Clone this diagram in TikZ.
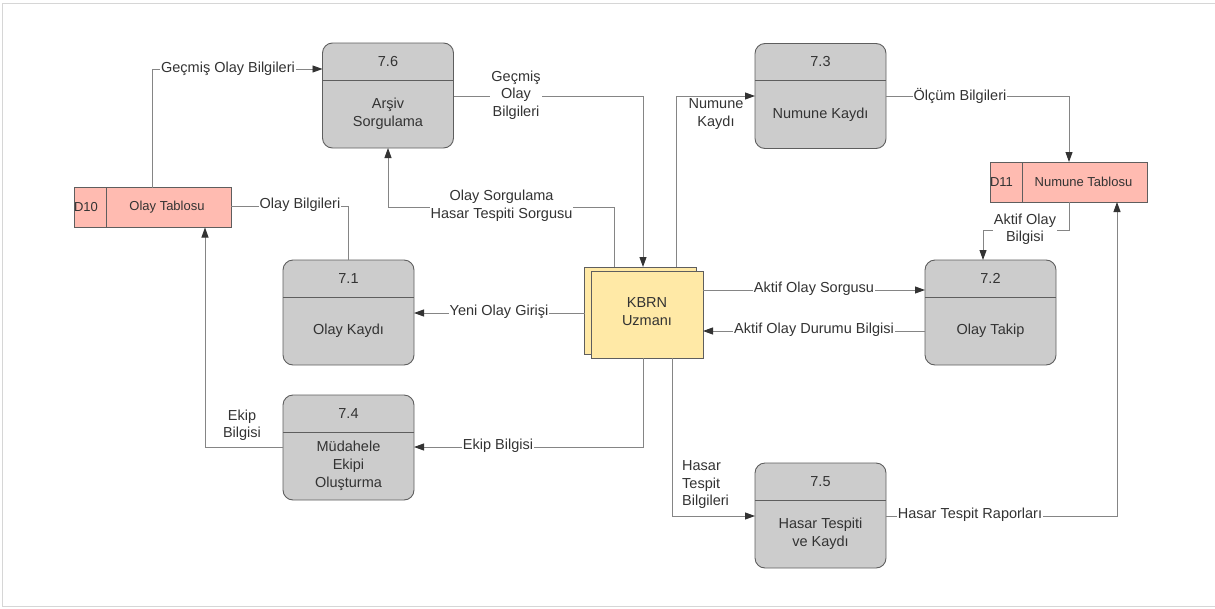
\documentclass[tikz,border=0pt]{standalone}
\usepackage{fontspec}
\setmainfont{Liberation Sans}
\usetikzlibrary{arrows.meta,calc}
\definecolor{txt}{HTML}{333333}
\definecolor{boxline}{HTML}{5E5E5E}
\definecolor{procfill}{HTML}{CCCCCC}
\definecolor{storefill}{HTML}{FFBBB1}
\definecolor{kfill}{HTML}{FFE9A6}
\definecolor{linecol}{HTML}{858585}
\definecolor{arrowcol}{HTML}{333333}
\definecolor{framecol}{HTML}{D6D6D6}
\tikzset{
  procbox/.style={draw=boxline, fill=procfill, rounded corners=10pt, minimum width=131pt, minimum height=105pt, inner sep=0pt, outer sep=0pt, line width=0.9pt},
  storebox/.style={draw=boxline, fill=storefill, minimum width=157pt, minimum height=40pt, inner sep=0pt, outer sep=0pt, line width=0.9pt},
  kbox/.style={draw=boxline, fill=kfill, minimum width=112pt, minimum height=87pt, inner sep=0pt, outer sep=0pt, line width=0.8pt},
  ptext/.style={text=txt, font=\fontsize{14.5}{18}\selectfont, align=center, inner sep=0pt},
  stext/.style={text=txt, font=\fontsize{13}{16}\selectfont, inner sep=0pt},
  lbl/.style={fill=white, inner sep=1pt, text=txt, font=\fontsize{14.5}{17.5}\selectfont, align=center},
  flow/.style={draw=linecol, line width=0.9pt, -{Triangle[length=10pt,width=7pt,color=arrowcol]}},
  plainflow/.style={draw=linecol, line width=0.9pt},
}
\newcommand\procnode[5]{%
  \node[procbox] (#1) at (#2,#3) {};
  \draw[boxline, line width=0.9pt] ($(#1.north west)+(0,37)$) -- ($(#1.north east)+(0,37)$);
  \node[ptext] (#1t) at ($(#1.north)+(0,18.5)$) {#4};
  \node[ptext] (#1b) at ($(#1.south)+(0,-34)$) {#5};
}
\newcommand\storenode[6]{%
  \node[storebox] (#1) at (#2,#3) {};
  \draw[boxline, line width=0.9pt] ($(#1.north west)+(32,0)$) -- ($(#1.south west)+(32,0)$);
  \node[stext] (#1i) at ($(#1.west)+(#6,0)$) {#4};
  \node[stext] (#1n) at ($(#1.west)+(93,0)$) {#5};
}
\begin{document}
\begin{tikzpicture}[x=1pt,y=-1pt]
\useasboundingbox (0,0) rectangle (1215,608);
\draw[framecol, line width=0.8pt] (1215,3) -- (2,3) -- (2,606) -- (1215,606);

% processes
\procnode{p76}{388}{95.5}{7.6}{Arşiv\\Sorgulama}
\procnode{p73}{820.5}{96}{7.3}{Numune Kaydı}
\procnode{p71}{348.5}{312.5}{7.1}{Olay Kaydı}
\procnode{p72}{990.5}{312.5}{7.2}{Olay Takip}
\procnode{p74}{348.5}{447.5}{7.4}{Müdahele\\ Ekipi\\Oluşturma}
\procnode{p75}{820.5}{515.5}{7.5}{Hasar Tespiti\\ ve Kaydı}

% stores
\storenode{d10}{152.5}{207.5}{D10}{Olay Tablosu}{12}
\storenode{d11}{1069}{182}{D11}{Numune Tablosu}{11}

% external entity
\node[kbox] (kback) at (640.5,310.5) {};
\node[kbox] (kfront) at (647,314.5) {};
\node[ptext] (ktext) at (647,312) {KBRN\\Uzmanı};

% connectors
\draw[flow] (d10.north) |- (p76.west |- 0,69);
\draw[flow] (p76.east |- 0,96) -| (643,0 |- kback.north);
\draw[flow] (614,0 |- kback.north) -- (614,207) -| (p76.south);
\draw[flow] (676,0 |- kback.north) |- (p73.west |- 0,96);
\draw[flow] (p73.east |- 0,96) -| (1069,0 |- d11.north);
\draw[flow] (1069,0 |- d11.south) -- (1069,230) -| (983,0 |- p72.north);
\draw[flow] (kfront.east |- 0,290) -- (p72.west |- 0,290);
\draw[flow] (p72.west |- 0,331) -- (kfront.east |- 0,331);
\draw[flow] (kback.west |- 0,313) -- (p71.east |- 0,313);
\draw[plainflow] (d10.east |- 0,206) -| (p71.north);
\draw[flow] (643,0 |- kfront.south) |- (p74.east |- 0,447);
\draw[flow] (p74.west |- 0,447) -| (205,0 |- d10.south);
\draw[flow] (672,0 |- kfront.south) |- (p75.west |- 0,516);
\draw[flow] (p75.east |- 0,516) -| (1117,0 |- d11.south);

% labels
\node[lbl] (l1) at (228,69) {Geçmiş Olay Bilgileri};
\node[lbl] (l2) at (516,95) {Geçmiş\\Olay\\Bilgileri};
\node[lbl] (l3) at (501.5,205.5) {Olay Sorgulama\\Hasar Tespiti Sorgusu};
\node[lbl] (l4) at (716,114) {Numune\\Kaydı};
\node[lbl] (l5) at (960,96) {Ölçüm Bilgileri};
\node[lbl] (l6) at (1025,229) {Aktif Olay\\Bilgisi};
\node[lbl] (l7) at (814,289) {Aktif Olay Sorgusu};
\node[lbl] (l8) at (814,330) {Aktif Olay Durumu Bilgisi};
\node[lbl] (l9) at (499,312) {Yeni Olay Girişi};
\node[lbl] (l10) at (300,205) {Olay Bilgileri};
\node[lbl] (l11) at (498,446) {Ekip Bilgisi};
\node[lbl] (l12) at (242,425) {Ekip\\Bilgisi};
\node[lbl, align=left, anchor=west] (l13) at (681,485) {Hasar\\Tespit\\Bilgileri};
\node[lbl] (l14) at (970,515) {Hasar Tespit Raporları};
\end{tikzpicture}
\end{document}
